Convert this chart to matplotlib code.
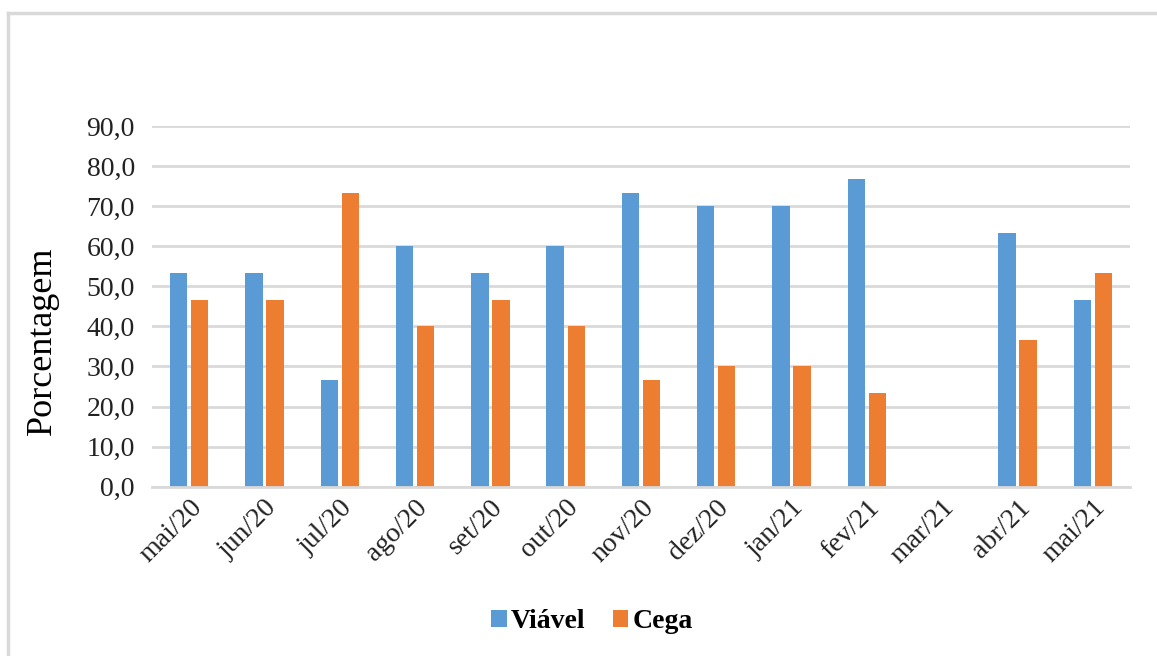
import matplotlib
matplotlib.use('Agg')
import matplotlib.pyplot as plt
from matplotlib.lines import Line2D
from matplotlib.ticker import FuncFormatter
import numpy as np

plt.rcParams['font.family'] = ['Liberation Serif', 'DejaVu Serif']

meses = ['mai/20', 'jun/20', 'jul/20', 'ago/20', 'set/20', 'out/20', 'nov/20',
         'dez/20', 'jan/21', 'fev/21', 'mar/21', 'abr/21', 'mai/21']
viavel = [53.3, 53.3, 26.7, 60.0, 53.3, 60.0, 73.3, 70.0, 70.0, 76.7, 0.0, 63.3, 46.7]
cega = [46.7, 46.7, 73.3, 40.0, 46.7, 40.0, 26.7, 30.0, 30.0, 23.3, 0.0, 36.7, 53.3]

azul = '#5b9bd5'
laranja = '#ed7d31'

fig = plt.figure(figsize=(11.57, 6.56), dpi=100)
ax = fig.add_axes([0.131, 0.258, 0.846, 0.550])

x = np.arange(len(meses))
w = 0.23
ax.bar(x - 0.14, viavel, w, color=azul, label='Viável')
ax.bar(x + 0.14, cega, w, color=laranja, label='Cega')

ax.set_xlim(-0.5, len(meses) - 0.5)
ax.set_ylim(0, 90)
ax.set_yticks(np.arange(0, 91, 10))
ax.yaxis.set_major_formatter(FuncFormatter(lambda v, p: f'{v:.1f}'.replace('.', ',')))
ax.grid(axis='y', color='#d9d9d9', linewidth=2)
ax.set_axisbelow(True)
for s in ['top', 'right', 'left']:
    ax.spines[s].set_visible(False)
ax.spines['bottom'].set_color('#d9d9d9')
ax.spines['bottom'].set_linewidth(2)
ax.tick_params(axis='both', length=0, labelsize=20, colors='#222222')
ax.tick_params(axis='y', pad=12)
ax.set_xticks(x)
ax.set_xticklabels(meses, rotation=45, ha='right', rotation_mode='anchor')
ax.tick_params(axis='x', pad=6)
ax.set_ylabel('Porcentagem', fontsize=26)
ax.yaxis.set_label_coords(-0.095, 0.404)

ax.legend(loc='center', bbox_to_anchor=(0.45, -0.374), ncol=2, frameon=False,
          prop={'weight': 'bold', 'size': 20}, handlelength=0.55, handleheight=0.55,
          handletextpad=0.15, columnspacing=1.0)

# moldura cinza do gráfico
fig.add_artist(Line2D([8 / 1157, 8 / 1157], [0, 1 - 13 / 656], color='#d9d9d9', lw=2.5))
fig.add_artist(Line2D([8 / 1157, 1], [1 - 13 / 656, 1 - 13 / 656], color='#d9d9d9', lw=2.5))

fig.savefig('out.png', dpi=100)
